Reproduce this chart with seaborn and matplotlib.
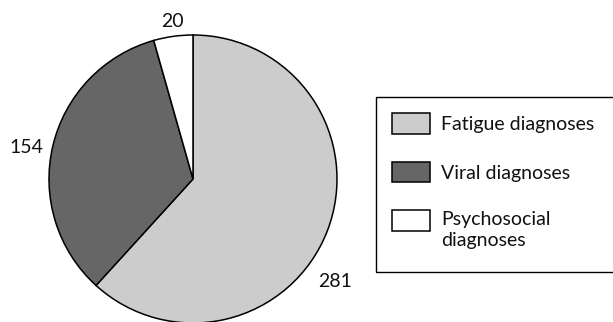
import matplotlib
matplotlib.use("Agg")
import matplotlib.pyplot as plt
from matplotlib.patches import Rectangle
from matplotlib.legend_handler import HandlerPatch
import seaborn as sns

# Diagnosis counts
categories = ["Fatigue diagnoses", "Viral diagnoses", "Psychosocial\ndiagnoses"]
counts = [281, 154, 20]
colors = ["#cccccc", "#666666", "#ffffff"]

# Value label anchors (in pie radius units)
label_pos = [(0.99, -0.71), (-1.16, 0.22), (-0.146, 1.097)]


class RaisedPatch(HandlerPatch):
    """Legend swatch lifted toward the first line of a two-line label."""

    def __init__(self, lift, **kw):
        super().__init__(**kw)
        self.lift = lift

    def create_artists(self, legend, orig_handle, xdescent, ydescent,
                       width, height, fontsize, trans):
        return super().create_artists(legend, orig_handle, xdescent,
                                      ydescent - self.lift * fontsize,
                                      width, height, fontsize, trans)


sns.set_theme(style="white")
plt.rcParams["font.family"] = ["Lato", "DejaVu Sans"]

W, H = 613, 322
fig = plt.figure(figsize=(W / 100, H / 100), dpi=100)
fig.patch.set_facecolor("white")

cx, cy, r = 193, 179, 144
ax = fig.add_axes([(cx - r) / W, (H - cy - r) / H, 2 * r / W, 2 * r / H])
wedges, _ = ax.pie(
    counts,
    colors=colors,
    startangle=90,
    counterclock=False,
    radius=1,
    wedgeprops=dict(edgecolor="black", linewidth=1.1),
)
ax.set_xlim(-1.0, 1.0)
ax.set_ylim(-1.0, 1.0)
ax.set_aspect("equal")
ax.axis("off")

for v, (x, y) in zip(counts, label_pos):
    ax.text(x, y, f"{v}", ha="center", va="center", fontsize=14, color="#111111")

fs = 14
leg = fig.legend(
    wedges,
    categories,
    loc="upper left",
    bbox_to_anchor=(392 / W, 1 - 113 / H),
    frameon=False,
    fontsize=fs,
    handlelength=1.95,
    handleheight=1.25,
    handletextpad=0.57,
    labelspacing=1.45,
    borderpad=0,
    borderaxespad=0,
    handler_map={wedges[2]: RaisedPatch(0.5)},
)
for t in leg.get_texts():
    t.set_linespacing(1.3)
    t.set_color("#111111")

fig.patches.append(
    Rectangle((376 / W, 1 - 272 / H), (W + 10 - 376) / W, (272 - 97) / H,
              transform=fig.transFigure, fill=False, edgecolor="black",
              linewidth=1.0)
)

fig.savefig("out.png", dpi=100, facecolor="white")
